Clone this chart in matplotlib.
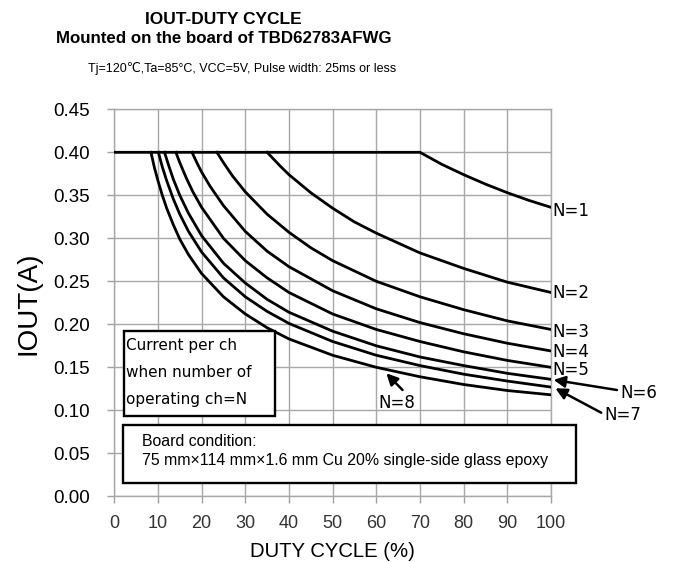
import matplotlib
matplotlib.use("Agg")
import matplotlib.pyplot as plt
from matplotlib.patches import Rectangle

# duty cycle (%) / IOUT (A), one pair of lists per N
duty_n1 = [0, 70, 75, 80, 85, 90, 95, 100]
iout_n1 = [0.400, 0.400, 0.386, 0.374, 0.363, 0.353, 0.344, 0.336]

duty_n2 = [35, 38, 40, 45, 50, 55, 60, 70, 80, 90, 100]
iout_n2 = [0.400, 0.384, 0.374, 0.353, 0.335, 0.319, 0.306, 0.283, 0.265, 0.249, 0.237]

duty_n3 = [23.5, 25, 27, 30, 35, 40, 45, 50, 60, 70, 80, 90, 100]
iout_n3 = [0.400, 0.388, 0.373, 0.354, 0.328, 0.307, 0.289, 0.274, 0.250, 0.232, 0.217, 0.204, 0.194]

duty_n4 = [17.8, 19, 20, 22, 25, 30, 35, 40, 50, 60, 70, 80, 90, 100]
iout_n4 = [0.400, 0.387, 0.377, 0.360, 0.338, 0.308, 0.285, 0.267, 0.239, 0.218, 0.202, 0.189, 0.178, 0.169]

duty_n5 = [14.1, 15, 16.5, 18, 20, 25, 30, 35, 40, 50, 60, 70, 80, 90, 100]
iout_n5 = [0.400, 0.388, 0.370, 0.354, 0.336, 0.300, 0.274, 0.254, 0.237, 0.212, 0.194, 0.180, 0.168, 0.158, 0.150]

duty_n6 = [11.5, 12.5, 13.5, 15, 17, 20, 25, 30, 35, 40, 50, 60, 70, 80, 90, 100]
iout_n6 = [0.400, 0.384, 0.369, 0.350, 0.329, 0.303, 0.271, 0.248, 0.229, 0.214, 0.192, 0.175, 0.162, 0.152, 0.143, 0.136]

duty_n7 = [10.1, 11, 12, 13.5, 15, 17, 20, 25, 30, 35, 40, 50, 60, 70, 80, 90, 100]
iout_n7 = [0.400, 0.383, 0.367, 0.346, 0.328, 0.308, 0.284, 0.254, 0.232, 0.215, 0.201, 0.180, 0.164, 0.152, 0.142, 0.134, 0.127]

duty_n8 = [8.4, 9.2, 10, 11, 12, 13.5, 15, 17, 20, 25, 30, 35, 40, 50, 60, 70, 80, 90, 100]
iout_n8 = [0.400, 0.382, 0.367, 0.350, 0.335, 0.316, 0.299, 0.281, 0.259, 0.232, 0.212, 0.196, 0.183, 0.164, 0.150, 0.139, 0.130, 0.123, 0.118]

series = [(duty_n1, iout_n1), (duty_n2, iout_n2), (duty_n3, iout_n3), (duty_n4, iout_n4),
          (duty_n5, iout_n5), (duty_n6, iout_n6), (duty_n7, iout_n7), (duty_n8, iout_n8)]
n_labels = ["N=1", "N=2", "N=3", "N=4", "N=5", "N=6", "N=7", "N=8"]

x_ticks = [0, 10, 20, 30, 40, 50, 60, 70, 80, 90, 100]
y_ticks = [0.00, 0.05, 0.10, 0.15, 0.20, 0.25, 0.30, 0.35, 0.40, 0.45]

SANS = ["Liberation Sans", "DejaVu Sans"]

fig = plt.figure(figsize=(6.79, 5.62), dpi=100)
ax = fig.add_axes([0.1683, 0.1169, 0.6432, 0.6886])

for d, i in series:
    ax.plot(d, i, color="black", lw=2.0, solid_joinstyle="round", zorder=3)

ax.set_xlim(0, 100)
ax.set_ylim(0, 0.45)
ax.set_xticks(x_ticks)
ax.set_yticks(y_ticks)
ax.set_xticklabels([str(t) for t in x_ticks], family=SANS, fontsize=13, color="#333333")
ax.set_yticklabels([f"{t:.2f}" for t in y_ticks], family=SANS, fontsize=13.5)
ax.tick_params(axis="both", color="#a0a0a0", length=4.7, width=1.0)
ax.tick_params(axis="y", pad=13)
ax.tick_params(axis="x", pad=9)
ax.grid(True, color="#a8a8a8", lw=1.0, zorder=0)
for s in ax.spines.values():
    s.set_color("#a8a8a8")
    s.set_linewidth(1.0)
ax.set_axisbelow(True)

ax.set_xlabel("DUTY CYCLE (%)", family=SANS, fontsize=14.6, labelpad=7)
ax.set_ylabel("IOUT(A)", family=SANS, fontsize=20, labelpad=8)

# curve labels on the right
right_pos = [0.3317, 0.2364, 0.1914, 0.1681, 0.1469]
for lab, yp in zip(n_labels[:5], right_pos):
    ax.text(100.4, yp, lab, family="DejaVu Sans", fontsize=12, va="center", ha="left",
            clip_on=False)

arrow = dict(arrowstyle="-|>", color="black", lw=1.8, mutation_scale=17, shrinkA=0, shrinkB=0)
ax.annotate("", xy=(100.6, 0.1354), xytext=(115.1, 0.1236), arrowprops=arrow,
            annotation_clip=False)
ax.text(115.9, 0.1205, n_labels[5], family="DejaVu Sans", fontsize=12, va="center",
        ha="left", clip_on=False)
ax.annotate("", xy=(101.0, 0.1256), xytext=(111.5, 0.0972), arrowprops=arrow,
            annotation_clip=False)
ax.text(112.3, 0.0945, n_labels[6], family="DejaVu Sans", fontsize=12, va="center",
        ha="left", clip_on=False)
ax.annotate("", xy=(62.3, 0.143), xytext=(66.0, 0.1236), arrowprops=arrow)
ax.text(64.8, 0.1088, n_labels[7], family="DejaVu Sans", fontsize=12, va="center",
        ha="center", zorder=4)

# note boxes
ax.add_patch(Rectangle((0.0222, 0.2075), 0.3455, 0.2204, transform=ax.transAxes,
                       facecolor="white", edgecolor="black", lw=1.7, zorder=5))
for yp, line in zip([0.3884, 0.3194, 0.2506],
                    ["Current per ch", "when number of", "operating ch=N"]):
    ax.text(0.0268, yp, line, transform=ax.transAxes, family="DejaVu Sans", fontsize=11,
            va="center", ha="left", zorder=6)

ax.add_patch(Rectangle((0.0206, 0.0351), 1.0366, 0.1491, transform=ax.transAxes,
                       facecolor="white", edgecolor="black", lw=1.7, zorder=5,
                       clip_on=False))
ax.text(0.0627, 0.1411, "Board condition:", transform=ax.transAxes, family=SANS,
        fontsize=11.4, va="center", ha="left", zorder=6)
ax.text(0.0627, 0.0938, "75 mm\u00d7114 mm\u00d71.6 mm Cu 20% single-side glass epoxy",
        transform=ax.transAxes, family=SANS, fontsize=11.4, va="center", ha="left",
        zorder=6)

# titles
fig.text(223 / 679, 1 - 19 / 562, "IOUT-DUTY CYCLE", family=SANS, fontsize=12.5,
         weight="bold", ha="center", va="center")
fig.text(224 / 679, 1 - 38.5 / 562, "Mounted on the board of TBD62783AFWG", family=SANS,
         fontsize=12.2, weight="bold", ha="center", va="center")
fig.text(242 / 679, 1 - 68 / 562,
         "Tj=120\u2103,Ta=85\u00b0C, VCC=5V, Pulse width: 25ms or less",
         family=SANS, fontsize=9, ha="center", va="center")

fig.savefig("out.png", dpi=100, facecolor="white")
